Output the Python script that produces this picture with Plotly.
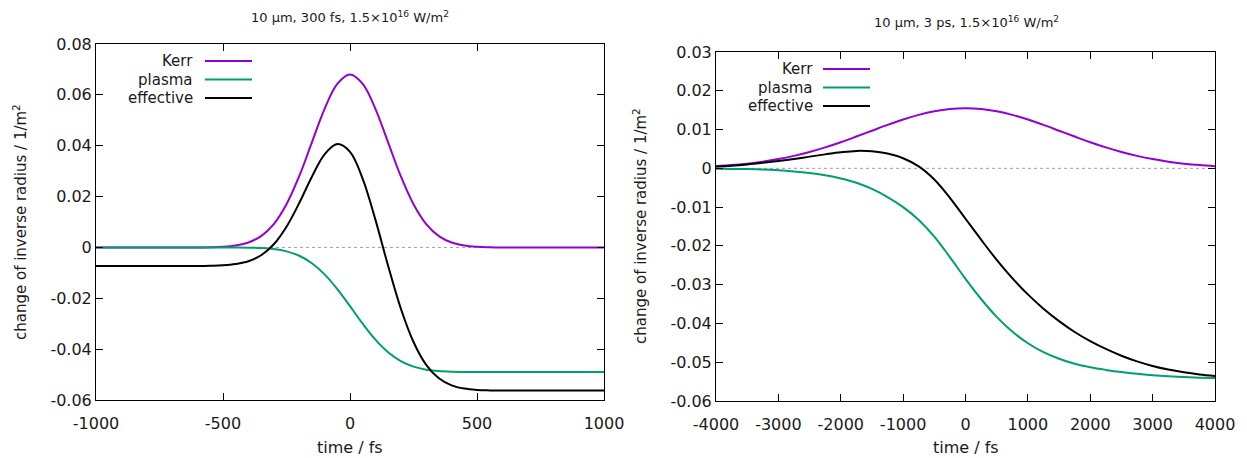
import plotly.graph_objects as go

# ---------------- data ----------------
t_left = [-1000, -950, -900, -850, -800, -750, -700, -650, -600, -550, -500, -450, -400, -350, -300,
          -250, -200, -150, -100, -50, 0, 50, 100, 150, 200, 250, 300, 350, 400, 450, 500,
          550, 600, 650, 700, 750, 800, 850, 900, 950, 1000]
kerr_left = [0, 0, 0, 0, 0, 0, 0, 0, 0, 0.00008, 0.00026, 0.00076, 0.00194, 0.00447, 0.0092,
             0.0170, 0.0280, 0.0413, 0.0545, 0.0643, 0.068, 0.0643, 0.0545, 0.0413, 0.0280, 0.0170, 0.0092,
             0.00447, 0.00194, 0.00076, 0.00026, 0.00008, 0, 0, 0, 0, 0, 0, 0, 0, 0]
plasma_left = [0, 0, 0, 0, 0, 0, 0, 0, 0, 0, 0, -0.00002, -0.00008, -0.00025, -0.00066,
               -0.00155, -0.00327, -0.0062, -0.01058, -0.01637, -0.0231, -0.0300, -0.03626, -0.04122,
               -0.04472, -0.04688, -0.04806, -0.04863, -0.04887, -0.04896, -0.049,
               -0.049, -0.049, -0.049, -0.049, -0.049, -0.049, -0.049, -0.049, -0.049, -0.049]
eff_left = [-0.0073, -0.0073, -0.0073, -0.0073, -0.0073, -0.0073, -0.0073, -0.0073, -0.0073, -0.0072,
            -0.0070, -0.0065, -0.00544, -0.00308, 0.00124, 0.00815, 0.01743, 0.0278, 0.03662, 0.04063,
            0.0376, 0.0270, 0.01094, -0.00722, -0.02402, -0.03718, -0.04616, -0.05146, -0.05423,
            -0.0555, -0.05604, -0.05622, -0.0563, -0.0563, -0.0563, -0.0563, -0.0563, -0.0563,
            -0.0563, -0.0563, -0.0563]

t_right = [-4000, -3750, -3500, -3250, -3000, -2750, -2500, -2250, -2000, -1750, -1500, -1250,
           -1000, -750, -500, -250, 0, 250, 500, 750, 1000, 1250, 1500, 1750, 2000, 2250, 2500,
           2750, 3000, 3250, 3500, 3750, 4000]
kerr_right = [0.00056, 0.00083, 0.00121, 0.00172, 0.00238, 0.00321, 0.00422, 0.0054, 0.00674,
              0.0082, 0.0097, 0.0112, 0.01259, 0.01379, 0.01471, 0.0153, 0.0155, 0.0153, 0.01471,
              0.01379, 0.01259, 0.0112, 0.0097, 0.0082, 0.00674, 0.0054, 0.00422, 0.00321,
              0.00238, 0.00172, 0.00121, 0.00083, 0.00056]
plasma_right = [-0.0001, -0.00015, -0.0002, -0.0003, -0.0005, -0.0008, -0.0012, -0.0018, -0.0026,
                -0.0037, -0.0053, -0.0074, -0.0100, -0.0133, -0.0176, -0.0229, -0.0285, -0.0337,
                -0.0383, -0.0421, -0.0451, -0.0474, -0.0491, -0.0504, -0.0513, -0.05198, -0.05255,
                -0.053, -0.05335, -0.05362, -0.05382, -0.05398, -0.0541]
eff_right = [0.00046, 0.00068, 0.00101, 0.00142, 0.00188, 0.00241, 0.00302, 0.0036, 0.00414,
             0.0045, 0.0044, 0.0038, 0.00259, 0.00049, -0.00289, -0.0076, -0.013, -0.0184,
             -0.02359, -0.02831, -0.03251, -0.0362, -0.0394, -0.0422, -0.04456, -0.04658,
             -0.04833, -0.04979, -0.05097, -0.0519, -0.05261, -0.05315, -0.05354]

x_ticks_left = [-1000, -500, 0, 500, 1000]
x_ticks_right = [-4000, -3000, -2000, -1000, 0, 1000, 2000, 3000, 4000]
y_ticks_left = [0.08, 0.06, 0.04, 0.02, 0, -0.02, -0.04, -0.06]
y_ticks_right = [0.03, 0.02, 0.01, 0, -0.01, -0.02, -0.03, -0.04, -0.05, -0.06]

series_names = ["Kerr", "plasma", "effective"]
series_colors = ["#9400D3", "#009E73", "#000000"]

titles = ["10 µm, 300 fs, 1.5×10<sup>16</sup> W/m<sup>2</sup>",
          "10 µm, 3 ps, 1.5×10<sup>16</sup> W/m<sup>2</sup>"]
x_title = "time / fs"
y_title = "change of inverse radius / 1/m<sup>2</sup>"

# ---------------- figure ----------------
W, H = 1247, 458
FONT = "DejaVu Sans"
TXT = "#1a1a1a"
fig = go.Figure()

panels = [
    dict(t=t_left, ys=[kerr_left, plasma_left, eff_left], xa="x", ya="y",
         xdom=[96 / W, 604 / W], ydom=[1 - 400 / H, 1 - 44 / H],
         xr=[-1000, 1000], yr=[-0.06, 0.08]),
    dict(t=t_right, ys=[kerr_right, plasma_right, eff_right], xa="x2", ya="y2",
         xdom=[716 / W, 1215 / W], ydom=[1 - 401 / H, 1 - 52 / H],
         xr=[-4000, 4000], yr=[-0.06, 0.03]),
]

def fmt(v):
    return "%g" % v

for p in panels:
    fig.add_trace(go.Scatter(x=p["xr"], y=[0, 0], xaxis=p["xa"], yaxis=p["ya"], mode="lines",
                             line=dict(color="#a0a0a0", width=1, dash="dot"),
                             showlegend=False, hoverinfo="skip"))
    for name, col, ys in zip(series_names, series_colors, p["ys"]):
        fig.add_trace(go.Scatter(x=p["t"], y=ys, xaxis=p["xa"], yaxis=p["ya"], mode="lines",
                                 name=name, line=dict(color=col, width=2, shape="spline",
                                                      smoothing=1.0),
                                 showlegend=False))

axis_common = dict(showline=True, linecolor="black", linewidth=1, mirror="allticks",
                   ticks="inside", ticklen=7, tickcolor="black", tickwidth=1,
                   showgrid=False, zeroline=False, automargin=False,
                   tickfont=dict(family=FONT, size=16, color=TXT))

fig.update_layout(
    xaxis=dict(domain=panels[0]["xdom"], range=panels[0]["xr"], anchor="y", ticklabelstandoff=9,
               tickvals=x_ticks_left, ticktext=[fmt(v) for v in x_ticks_left], **axis_common),
    yaxis=dict(domain=panels[0]["ydom"], range=panels[0]["yr"], anchor="x",
               tickvals=y_ticks_left, ticktext=[fmt(v) for v in y_ticks_left], **axis_common),
    xaxis2=dict(domain=panels[1]["xdom"], range=panels[1]["xr"], anchor="y2", ticklabelstandoff=9,
                tickvals=x_ticks_right, ticktext=[fmt(v) for v in x_ticks_right], **axis_common),
    yaxis2=dict(domain=panels[1]["ydom"], range=panels[1]["yr"], anchor="x2",
                tickvals=y_ticks_right, ticktext=[fmt(v) for v in y_ticks_right], **axis_common),
    width=W, height=H, margin=dict(l=0, r=0, t=0, b=0, autoexpand=False),
    paper_bgcolor="white", plot_bgcolor="white",
    font=dict(family=FONT, size=15, color=TXT),
)

annotations = []
shapes = []
for txt, cx, cy in [(titles[0], 350, 17), (titles[1], 966, 22)]:
    annotations.append(dict(text=txt, x=cx / W, y=1 - cy / H, xref="paper", yref="paper",
                            showarrow=False, xanchor="center", yanchor="middle",
                            font=dict(family=FONT, size=13, color=TXT)))
for cx in [350, 966]:
    annotations.append(dict(text=x_title, x=cx / W, y=1 - 447 / H, xref="paper", yref="paper",
                            showarrow=False, xanchor="center", yanchor="middle",
                            font=dict(family=FONT, size=16, color=TXT)))
for cx, cy in [(20, 222), (640, 226)]:
    annotations.append(dict(text=y_title, x=cx / W, y=1 - cy / H, xref="paper", yref="paper",
                            showarrow=False, xanchor="center", yanchor="middle", textangle=-90,
                            font=dict(family=FONT, size=15, color=TXT)))
for (tx, lx0, lx1, y0) in [(195, 205, 252, 61), (815, 823, 870, 69)]:
    for i, (name, col) in enumerate(zip(series_names, series_colors)):
        yy = y0 + i * 18.5
        annotations.append(dict(text=name, x=tx / W, y=1 - yy / H, xref="paper", yref="paper",
                                showarrow=False, xanchor="right", yanchor="middle",
                                font=dict(family=FONT, size=15, color=TXT)))
        shapes.append(dict(type="line", xref="paper", yref="paper", x0=lx0 / W, x1=lx1 / W,
                           y0=1 - yy / H, y1=1 - yy / H, line=dict(color=col, width=2)))

fig.update_layout(annotations=annotations, shapes=shapes)
fig.write_html("out.html")
